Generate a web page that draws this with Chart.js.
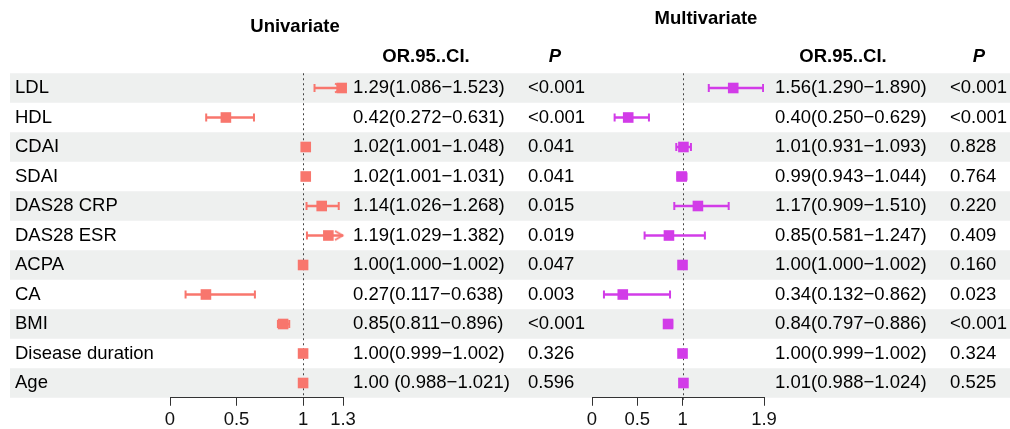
<!DOCTYPE html>
<html>
<head>
<meta charset="utf-8">
<style>
  body { margin: 0; background: #fff; }
  #wrap { position: relative; width: 1010px; height: 429px; }
  #wrap canvas { position: absolute; left: 0; top: 0; }
</style>
</head>
<body>
<div id="wrap">
  <canvas id="uniChart" width="1010" height="429"></canvas>
  <canvas id="multiChart" width="1010" height="429"></canvas>
</div>

<script src="https://cdn.jsdelivr.net/npm/chart.js"></script>

<script>
    // rows, top to bottom
    const variables = ['LDL', 'HDL', 'CDAI', 'SDAI', 'DAS28 CRP', 'DAS28 ESR', 'ACPA', 'CA', 'BMI', 'Disease duration', 'Age'];

    // univariate
    const uniOR   = [1.29, 0.42, 1.02, 1.02, 1.14, 1.19, 1.00, 0.27, 0.85, 1.00, 1.00];
    const uniLow  = [1.086, 0.272, 1.001, 1.001, 1.026, 1.029, 1.000, 0.117, 0.811, 0.999, 0.988];
    const uniHigh = [1.523, 0.631, 1.048, 1.031, 1.268, 1.382, 1.002, 0.638, 0.896, 1.002, 1.021];
    const uniText = ['1.29(1.086\u22121.523)', '0.42(0.272\u22120.631)', '1.02(1.001\u22121.048)', '1.02(1.001\u22121.031)',
                     '1.14(1.026\u22121.268)', '1.19(1.029\u22121.382)', '1.00(1.000\u22121.002)', '0.27(0.117\u22120.638)',
                     '0.85(0.811\u22120.896)', '1.00(0.999\u22121.002)', '1.00 (0.988\u22121.021)'];
    const uniP    = ['<0.001', '<0.001', '0.041', '0.041', '0.015', '0.019', '0.047', '0.003', '<0.001', '0.326', '0.596'];
    const uniTicks = [0, 0.5, 1, 1.3];

    // multivariate
    const multiOR   = [1.56, 0.40, 1.01, 0.99, 1.17, 0.85, 1.00, 0.34, 0.84, 1.00, 1.01];
    const multiLow  = [1.290, 0.250, 0.931, 0.943, 0.909, 0.581, 1.000, 0.132, 0.797, 0.999, 0.988];
    const multiHigh = [1.890, 0.629, 1.093, 1.044, 1.510, 1.247, 1.002, 0.862, 0.886, 1.002, 1.024];
    const multiText = ['1.56(1.290\u22121.890)', '0.40(0.250\u22120.629)', '1.01(0.931\u22121.093)', '0.99(0.943\u22121.044)',
                       '1.17(0.909\u22121.510)', '0.85(0.581\u22121.247)', '1.00(1.000\u22121.002)', '0.34(0.132\u22120.862)',
                       '0.84(0.797\u22120.886)', '1.00(0.999\u22121.002)', '1.01(0.988\u22121.024)'];
    const multiP    = ['<0.001', '<0.001', '0.828', '0.764', '0.220', '0.409', '0.160', '0.023', '<0.001', '0.324', '0.525'];
    const multiTicks = [0, 0.5, 1, 1.9];

    const family = "'Liberation Sans', Arial, Helvetica, sans-serif";
    Chart.defaults.font.family = family;
    Chart.defaults.font.size = 18.5;
    Chart.defaults.color = '#111';

    // grey bands behind every other row
    const stripes = {
        id: 'stripes',
        beforeDraw(chart) {
            const { ctx, scales: { y } } = chart;
            const h = y.getPixelForValue(1) - y.getPixelForValue(0);
            ctx.save();
            ctx.fillStyle = '#eef0ef';
            variables.forEach((v, i) => {
                if (i % 2 === 0) ctx.fillRect(10, y.getPixelForValue(i) - h / 2, chart.width - 10, h);
            });
            ctx.restore();
        }
    };

    // dotted line at OR = 1
    const refLine = {
        id: 'refLine',
        beforeDatasetsDraw(chart) {
            const { ctx, chartArea, scales: { x } } = chart;
            const px = Math.round(x.getPixelForValue(1)) + 0.5;
            ctx.save();
            ctx.strokeStyle = '#444';
            ctx.lineWidth = 1;
            ctx.setLineDash([2, 3]);
            ctx.beginPath();
            ctx.moveTo(px, chartArea.top);
            ctx.lineTo(px, chartArea.bottom + 2);
            ctx.stroke();
            ctx.restore();
        }
    };

    // panel title and column headers
    const headers = {
        id: 'headers',
        afterDraw(chart, args, opts) {
            const ctx = chart.ctx;
            ctx.save();
            ctx.fillStyle = '#000';
            ctx.textAlign = 'center';
            ctx.textBaseline = 'middle';
            opts.items.forEach(it => {
                ctx.font = (it.italic ? 'italic ' : '') + 'bold 18.5px ' + family;
                ctx.fillText(it.text, it.x, it.y);
            });
            ctx.restore();
        }
    };

    // open arrow head for intervals running past the axis
    function makeArrow(color) {
        const c = document.createElement('canvas');
        c.width = 20; c.height = 12;
        const g = c.getContext('2d');
        g.strokeStyle = color;
        g.lineWidth = 2;
        g.beginPath();
        g.moveTo(2, 1.5); g.lineTo(9.5, 6); g.lineTo(2, 10.5);
        g.stroke();
        return c;
    }

    function forest(id, o) {
        const pts = arr => arr.map((v, i) => ({ x: v, y: variables[i] }));
        const arrows = o.high.map((v, i) => v > o.max ? { x: o.max, y: variables[i] } : null).filter(p => p);

        return new Chart(document.getElementById(id), {
            type: 'bar',
            data: {
                labels: variables,
                datasets: [
                    { type: 'scatter', data: pts(o.or), xAxisID: 'x', yAxisID: 'y', clip: false,
                      pointStyle: 'rect', pointRadius: 7.5, backgroundColor: o.color, borderColor: o.color, borderWidth: 0 },
                    { type: 'scatter', data: arrows, xAxisID: 'x', yAxisID: 'y', clip: false,
                      pointStyle: makeArrow(o.color), pointRadius: 5 },
                    { type: 'scatter', data: pts(o.low).concat(pts(o.high)), xAxisID: 'x', yAxisID: 'y', clip: 0,
                      pointStyle: 'line', pointRotation: 90, pointRadius: 4, borderColor: o.color, borderWidth: 2 },
                    { type: 'bar', data: o.low.map((v, i) => [v, o.high[i]]), xAxisID: 'x', yAxisID: 'y', clip: 0,
                      backgroundColor: o.color, barThickness: 2, borderWidth: 0 }
                ]
            },
            options: {
                responsive: false,
                animation: false,
                indexAxis: 'y',
                layout: { padding: { left: o.padLeft, top: 73.25, right: 0, bottom: 0 } },
                plugins: {
                    legend: { display: false },
                    tooltip: { enabled: false },
                    headers: { items: o.headers }
                },
                scales: {
                    x: {
                        type: 'linear', position: 'bottom', min: 0, max: o.max,
                        afterBuildTicks: s => { s.ticks = o.ticks.map(v => ({ value: v })); },
                        afterFit: s => { s.height = 31.25; },
                        ticks: { autoSkip: false, maxRotation: 0, padding: 3, color: '#111', callback: v => String(v) },
                        grid: { display: true, drawOnChartArea: false, drawTicks: true, tickLength: 8, color: '#333' },
                        border: { display: true, color: '#333', width: 1 }
                    },
                    y: {
                        type: 'category', position: 'left', offset: true, display: o.nameWidth > 0,
                        afterFit: s => { s.width = o.nameWidth; },
                        ticks: { crossAlign: 'far', autoSkip: false, padding: 0, color: '#000' },
                        grid: { display: false, drawTicks: false },
                        border: { display: false }
                    },
                    orText: {
                        type: 'category', axis: 'y', position: 'right', offset: true, labels: o.text, weight: 0,
                        afterFit: s => { s.width = o.textWidth; },
                        ticks: { crossAlign: 'near', autoSkip: false, padding: o.textPad, color: '#000' },
                        grid: { display: false, drawTicks: false },
                        border: { display: false }
                    },
                    pText: {
                        type: 'category', axis: 'y', position: 'right', offset: true, labels: o.p, weight: 1,
                        afterFit: s => { s.width = o.pWidth; },
                        ticks: { crossAlign: 'near', autoSkip: false, padding: o.pPad, color: '#000' },
                        grid: { display: false, drawTicks: false },
                        border: { display: false }
                    }
                }
            },
            plugins: o.plugins
        });
    }

    forest('uniChart', {
        or: uniOR, low: uniLow, high: uniHigh, text: uniText, p: uniP, ticks: uniTicks, max: 1.3,
        color: '#f8766d', nameWidth: 155, padLeft: 15,
        textWidth: 177, textPad: 10, pWidth: 490, pPad: 8,
        headers: [
            { text: 'Univariate', x: 295, y: 27 },
            { text: 'OR.95..CI.', x: 426, y: 57 },
            { text: 'P', x: 555, y: 57, italic: true }
        ],
        plugins: [stripes, refLine, headers]
    });

    forest('multiChart', {
        or: multiOR, low: multiLow, high: multiHigh, text: multiText, p: multiP, ticks: multiTicks, max: 1.9,
        color: '#d23ce8', nameWidth: 0, padLeft: 592,
        textWidth: 186, textPad: 11, pWidth: 60, pPad: 0,
        headers: [
            { text: 'Multivariate', x: 706, y: 19 },
            { text: 'OR.95..CI.', x: 843, y: 57 },
            { text: 'P', x: 979, y: 57, italic: true }
        ],
        plugins: [refLine, headers]
    });
</script>
</body>
</html>
